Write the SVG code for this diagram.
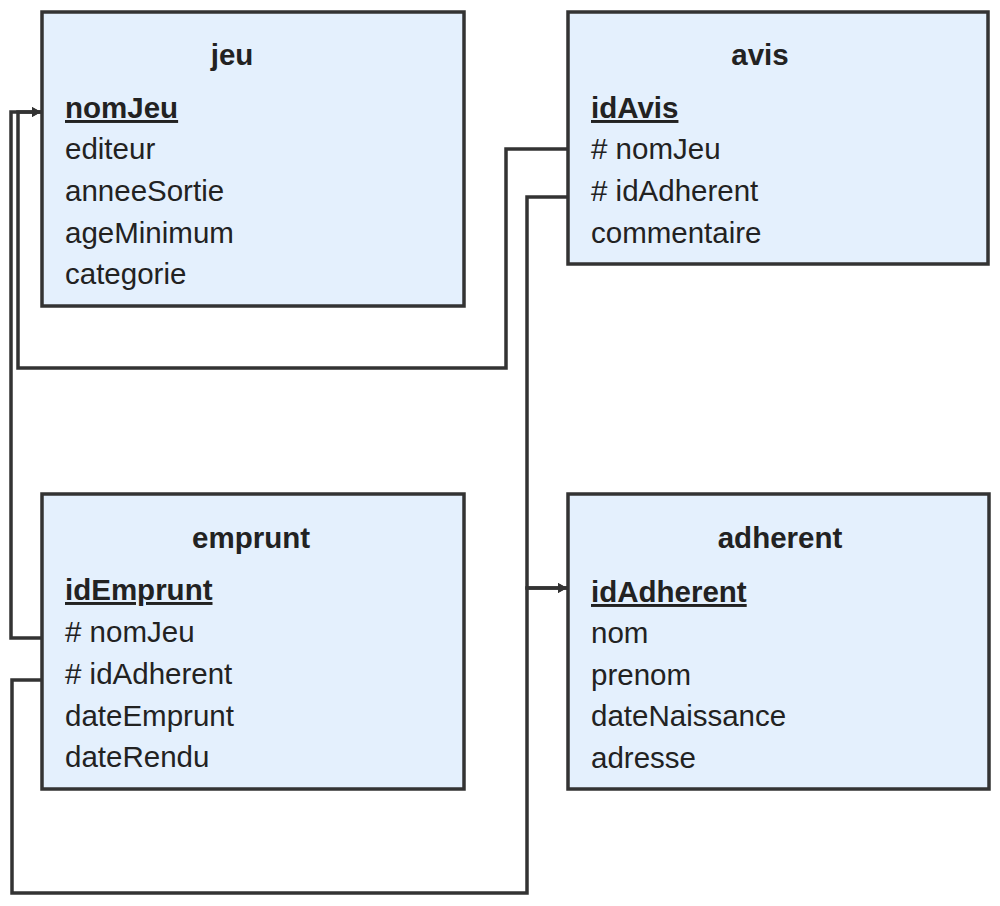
<svg xmlns="http://www.w3.org/2000/svg" width="1000" height="906" viewBox="0 0 1000 906">
<style>
.box{fill:#e4f0fd;stroke:#333;stroke-width:3.5}
.t{font-family:"Liberation Sans",Arial,sans-serif;font-size:29.5px;fill:#222}
.h{font-weight:bold;text-anchor:middle}
.pk{font-weight:bold;text-decoration:underline}
.c{fill:none;stroke:#333;stroke-width:3.5}
</style>
<defs>
<marker id="arr" markerWidth="12" markerHeight="12" refX="9" refY="6" orient="auto" markerUnits="userSpaceOnUse">
<path d="M0,1 L9,6 L0,11 Z" fill="#333"/>
</marker>
</defs>
<rect width="1000" height="906" fill="#fff"/>
<g id="connectors">
<path class="c" d="M568,149 H506 V368 H18 V112 H41" marker-end="url(#arr)"/>
<path class="c" d="M42,638 H11 V112 H41" marker-end="url(#arr)"/>
<path class="c" d="M568,197 H527 V588 H567" marker-end="url(#arr)"/>
<path class="c" d="M42,680 H12 V893 H527 V588 H567" marker-end="url(#arr)"/>
</g>
<g id="jeu">
<rect class="box" x="42" y="12" width="422" height="294"/>
<text class="t h" x="232" y="65">jeu</text>
<text class="t pk" x="65" y="118">nomJeu</text>
<text class="t" x="65" y="159">editeur</text>
<text class="t" x="65" y="201">anneeSortie</text>
<text class="t" x="65" y="243">ageMinimum</text>
<text class="t" x="65" y="284">categorie</text>
</g>
<g id="avis">
<rect class="box" x="568" y="12" width="420" height="252"/>
<text class="t h" x="760" y="65">avis</text>
<text class="t pk" x="591" y="118">idAvis</text>
<text class="t" x="591" y="159"># nomJeu</text>
<text class="t" x="591" y="201"># idAdherent</text>
<text class="t" x="591" y="243">commentaire</text>
</g>
<g id="emprunt">
<rect class="box" x="42" y="494" width="422" height="295"/>
<text class="t h" x="251" y="548">emprunt</text>
<text class="t pk" x="65" y="600">idEmprunt</text>
<text class="t" x="65" y="642"># nomJeu</text>
<text class="t" x="65" y="684"># idAdherent</text>
<text class="t" x="65" y="726">dateEmprunt</text>
<text class="t" x="65" y="767">dateRendu</text>
</g>
<g id="adherent">
<rect class="box" x="568" y="494" width="421" height="295"/>
<text class="t h" x="780" y="548">adherent</text>
<text class="t pk" x="591" y="602">idAdherent</text>
<text class="t" x="591" y="643">nom</text>
<text class="t" x="591" y="685">prenom</text>
<text class="t" x="591" y="726">dateNaissance</text>
<text class="t" x="591" y="768">adresse</text>
</g>
</svg>
